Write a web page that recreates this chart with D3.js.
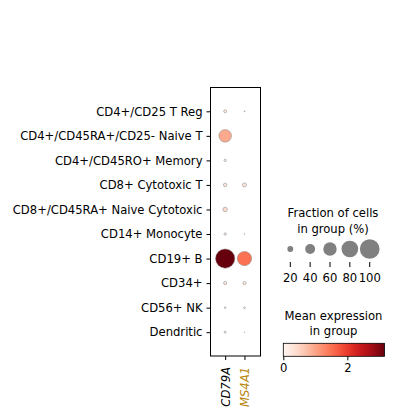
<!DOCTYPE html>
<html><head><meta charset="utf-8">
<script src="https://cdn.jsdelivr.net/npm/d3@7"></script>
<style>body{margin:0;background:#fff}svg{display:block}text{font-family:"DejaVu Sans",sans-serif}</style>
</head><body><svg id="c" width="393" height="416"></svg>
<script>
const groups = ["CD4+/CD25 T Reg","CD4+/CD45RA+/CD25- Naive T","CD4+/CD45RO+ Memory","CD8+ Cytotoxic T","CD8+/CD45RA+ Naive Cytotoxic","CD14+ Monocyte","CD19+ B","CD34+","CD56+ NK","Dendritic"];
const genes = ["CD79A","MS4A1"];
const geneColors = ["#000000","#b8860b"];
// fraction of cells (%) per group for each gene
const fracCD79A = [8, 55, 6, 10, 14, 6, 97, 9, 4, 5];
const fracMS4A1 = [2, 0, 0, 12, 0, 1.5, 65, 9, 4, 1];
// mean expression in group
const exprCD79A = [0.2, 0.95, 0.15, 0.25, 0.4, 0.15, 3.16, 0.25, 0.15, 0.15];
const exprMS4A1 = [0.1, 0, 0, 0.25, 0, 0.1, 1.5, 0.25, 0.15, 0.1];
const sizeLegend = [20, 40, 60, 80, 100];
const colorTicks = [0, 2];
const vmax = 3.16;

const svg = d3.select("#c");
const fs = 11.6;
const box = {l: 210.5, r: 260.5, t: 87.5, b: 356};
const x = d3.scaleLinear().domain([-0.76, 1.83]).range([box.l, box.r]);
const y = d3.scaleLinear().domain([-0.97, groups.length - 0.03]).range([box.t, box.b]);
const r = d3.scalePow().exponent(0.75).domain([0, 100]).range([0, 9.85]);
const color = d3.scaleSequential(d3.interpolateReds).domain([0, vmax]);

const data = [];
groups.forEach((g, i) => {
  data.push({g: i, k: 0, f: fracCD79A[i], e: exprCD79A[i]});
  data.push({g: i, k: 1, f: fracMS4A1[i], e: exprMS4A1[i]});
});

// frame
svg.append("rect").attr("x", box.l).attr("y", box.t).attr("width", box.r - box.l).attr("height", box.b - box.t)
  .attr("fill", "none").attr("stroke", "#000").attr("stroke-width", 1);

// y axis
const yAxis = d3.axisLeft(d3.scaleLinear().domain(y.domain()).range(y.range()))
  .tickValues(d3.range(groups.length)).tickFormat(i => groups[i]).tickSize(4).tickPadding(4);
const ya = svg.append("g").attr("transform", `translate(${box.l},0)`).call(yAxis);
ya.select(".domain").remove();
ya.selectAll("text").attr("font-size", fs).attr("fill", "#000").style("font-family", "DejaVu Sans");
ya.selectAll("line").attr("stroke", "#000");

// x axis
const xAxis = d3.axisBottom(x).tickValues([0, 1]).tickFormat(i => genes[i]).tickSize(4).tickPadding(4);
const xa = svg.append("g").attr("transform", `translate(0,${box.b})`).call(xAxis);
xa.select(".domain").remove();
xa.selectAll("line").attr("stroke", "#000");
xa.selectAll("text").attr("font-size", fs).attr("font-style", "italic")
  .attr("fill", (d) => geneColors[d])
  .attr("transform", "rotate(-90)").attr("text-anchor", "end")
  .attr("x", -11).attr("y", 0).attr("dy", "0.35em").style("font-family", "DejaVu Sans");

// dots
svg.append("g").selectAll("circle").data(data.filter(d => d.f > 0)).join("circle")
  .attr("cx", d => x(d.k)).attr("cy", d => y(d.g)).attr("r", d => r(d.f))
  .attr("fill", d => color(d.e)).attr("stroke", "#808080").attr("stroke-width", 0.5);

// size legend
const lg = svg.append("g");
lg.append("text").attr("x", 333).attr("y", 217).attr("text-anchor", "middle").attr("font-size", fs).text("Fraction of cells");
lg.append("text").attr("x", 333).attr("y", 233).attr("text-anchor", "middle").attr("font-size", fs).text("in group (%)");
const lx = d3.scaleLinear().domain([20, 100]).range([290.3, 369.7]);
lg.selectAll("circle").data(sizeLegend).join("circle")
  .attr("cx", d => lx(d)).attr("cy", 249).attr("r", d => r(d)).attr("fill", "#808080");
lg.selectAll("line").data(sizeLegend).join("line")
  .attr("x1", d => lx(d)).attr("x2", d => lx(d)).attr("y1", 262).attr("y2", 267).attr("stroke", "#000");
lg.selectAll("text.t").data(sizeLegend).join("text").attr("class", "t")
  .attr("x", d => lx(d)).attr("y", 282).attr("text-anchor", "middle").attr("font-size", fs).text(d => d);

// colorbar
const cb = {l: 283.3, r: 384.5, t: 343.3, b: 356.3};
const defs = svg.append("defs");
const grad = defs.append("linearGradient").attr("id", "g1");
d3.range(0, 1.0001, 0.05).forEach(t => grad.append("stop").attr("offset", t).attr("stop-color", color(t * vmax)));
svg.append("text").attr("x", 333.5).attr("y", 320).attr("text-anchor", "middle").attr("font-size", fs).text("Mean expression");
svg.append("text").attr("x", 333.5).attr("y", 335).attr("text-anchor", "middle").attr("font-size", fs).text("in group");
svg.append("rect").attr("x", cb.l).attr("y", cb.t).attr("width", cb.r - cb.l).attr("height", cb.b - cb.t)
  .attr("fill", "url(#g1)").attr("stroke", "#000").attr("stroke-width", 0.8);
const cx = d3.scaleLinear().domain([0, vmax]).range([cb.l, cb.r]);
const ca = svg.append("g").attr("transform", `translate(0,${cb.b})`)
  .call(d3.axisBottom(cx).tickValues(colorTicks).tickSize(4).tickPadding(3).tickFormat(d3.format("d")));
ca.select(".domain").remove();
ca.selectAll("line").attr("stroke", "#000");
ca.selectAll("text").attr("font-size", fs).attr("fill", "#000").style("font-family", "DejaVu Sans");
</script></body></html>
